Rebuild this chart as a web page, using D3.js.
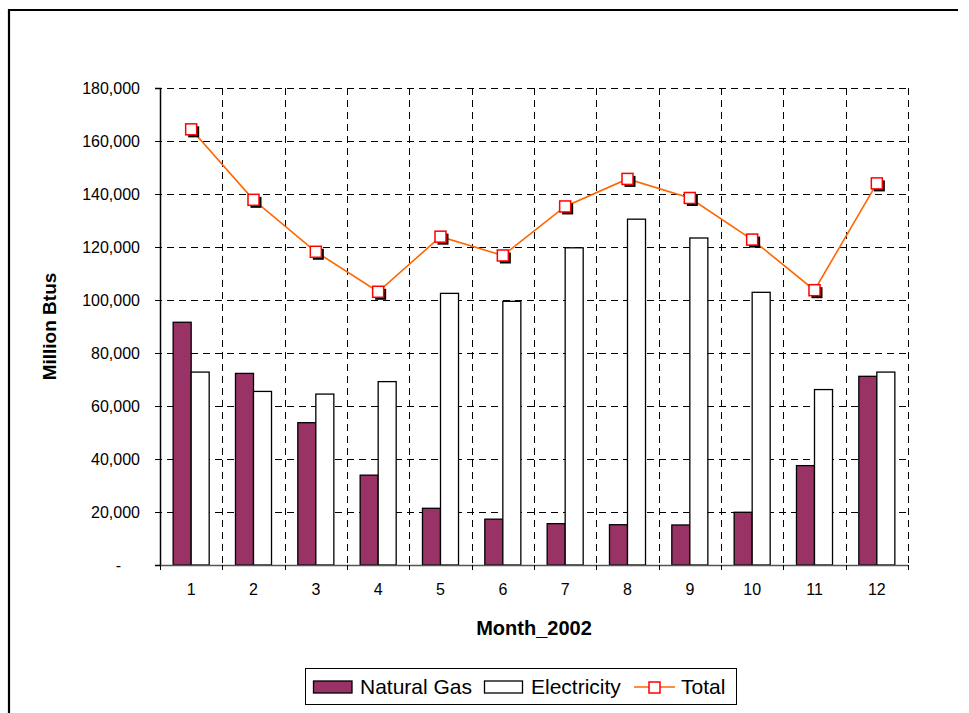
<!DOCTYPE html>
<html>
<head>
<meta charset="utf-8">
<script src="https://cdn.jsdelivr.net/npm/d3@7"></script>
<style>
  html, body { margin: 0; padding: 0; background: #fff; }
  svg { display: block; font-family: "Liberation Sans", Arial, sans-serif; }
</style>
</head>
<body>
<svg id="chart" width="969" height="713"></svg>
<script>
// Monthly energy use, 2002 (million Btus)
const months = ["1", "2", "3", "4", "5", "6", "7", "8", "9", "10", "11", "12"];
const naturalGas = [91600, 72300, 53700, 33900, 21400, 17300, 15600, 15200, 15100, 19900, 37500, 71200];
const electricity = [72800, 65500, 64500, 69200, 102500, 99500, 119700, 130500, 123400, 102900, 66200, 72800];
const total = [164400, 137800, 118200, 103100, 123900, 116800, 135300, 145700, 138500, 122800, 103700, 144000];
const yTicks = [0, 20000, 40000, 60000, 80000, 100000, 120000, 140000, 160000, 180000];
const seriesNames = ["Natural Gas", "Electricity", "Total"];

const svg = d3.select("#chart");
const plot = { left: 160, right: 908, top: 88, bottom: 565 };

const x = d3.scaleBand().domain(months).range([plot.left, plot.right]).paddingInner(0).paddingOuter(0);
const y = d3.scaleLinear().domain([0, 180000]).range([plot.bottom, plot.top]);

const gap = 1.46;
const barW = x.bandwidth() / (2 + gap);
const barOffset = barW * gap / 2;

// outer frame (top and left edges)
svg.append("path")
  .attr("d", `M9,713 L9,10 L958,10`)
  .attr("fill", "none").attr("stroke", "#000").attr("stroke-width", 2.2);

// horizontal dashed gridlines
svg.append("g").selectAll("line").data(yTicks.filter(d => d > 0)).join("line")
  .attr("x1", plot.left - 5).attr("x2", plot.right)
  .attr("y1", d => Math.round(y(d)) + 0.5).attr("y2", d => Math.round(y(d)) + 0.5)
  .attr("stroke", "#000").attr("stroke-width", 1).attr("stroke-dasharray", "7,5");

// vertical dashed gridlines at category boundaries
const bounds = months.slice(1).map(m => x(m)).concat([plot.right]);
svg.append("g").selectAll("line").data(bounds).join("line")
  .attr("x1", d => Math.round(d) + 0.5).attr("x2", d => Math.round(d) + 0.5)
  .attr("y1", plot.top).attr("y2", plot.bottom)
  .attr("stroke", "#000").attr("stroke-width", 1).attr("stroke-dasharray", "7,5");

// bars
const bars = svg.append("g");
bars.selectAll("rect.gas").data(naturalGas).join("rect")
  .attr("class", "gas")
  .attr("x", (d, i) => x(months[i]) + barOffset)
  .attr("width", barW)
  .attr("y", d => y(d))
  .attr("height", d => y(0) - y(d))
  .attr("fill", "#993366").attr("stroke", "#000").attr("stroke-width", 1.3);
bars.selectAll("rect.elec").data(electricity).join("rect")
  .attr("class", "elec")
  .attr("x", (d, i) => x(months[i]) + barOffset + barW)
  .attr("width", barW)
  .attr("y", d => y(d))
  .attr("height", d => y(0) - y(d))
  .attr("fill", "#fff").attr("stroke", "#000").attr("stroke-width", 1.3);

// y axis
const yAxis = d3.axisLeft(y).tickValues(yTicks).tickSize(5).tickPadding(15)
  .tickFormat(d => d === 0 ? "-" : d3.format(",")(d));
const gy = svg.append("g").attr("transform", `translate(${plot.left},0)`).call(yAxis);
gy.select(".domain").attr("stroke", "#000").attr("stroke-width", 1.5);
gy.selectAll(".tick line").attr("stroke", "#000");
gy.selectAll(".tick text").attr("font-size", 16).attr("fill", "#000")
  .attr("font-family", "'Liberation Sans', Arial, sans-serif");
gy.selectAll(".tick").filter(d => d === 0).select("text").attr("dx", -19);

// x axis
const xAxis = d3.axisBottom(x).tickSize(0).tickPadding(19);
const gx = svg.append("g").attr("transform", `translate(0,${plot.bottom})`).call(xAxis);
gx.select(".domain").attr("stroke", "#555").attr("stroke-width", 1.5);
gx.selectAll(".tick text").attr("font-size", 16).attr("fill", "#000")
  .attr("font-family", "'Liberation Sans', Arial, sans-serif");
gx.append("g").selectAll("line").data([plot.left].concat(bounds)).join("line")
  .attr("x1", d => Math.round(d) + 0.5).attr("x2", d => Math.round(d) + 0.5)
  .attr("y1", 0).attr("y2", 5).attr("stroke", "#000");

// total line
const cx = (d, i) => x(months[i]) + x.bandwidth() / 2;
svg.append("path")
  .datum(total)
  .attr("d", d3.line().x(cx).y(d => y(d)))
  .attr("fill", "none").attr("stroke", "#FF6600").attr("stroke-width", 1.6);

// markers with drop shadow
const ms = 11;
const mk = svg.append("g");
mk.selectAll("rect.shadow").data(total).join("rect")
  .attr("class", "shadow")
  .attr("x", (d, i) => cx(d, i) - ms / 2 + 2.5).attr("y", d => y(d) - ms / 2 + 2.5)
  .attr("width", ms).attr("height", ms).attr("fill", "#000");
mk.selectAll("rect.pt").data(total).join("rect")
  .attr("class", "pt")
  .attr("x", (d, i) => cx(d, i) - ms / 2).attr("y", d => y(d) - ms / 2)
  .attr("width", ms).attr("height", ms)
  .attr("fill", "#fff").attr("stroke", "#FF0000").attr("stroke-width", 1.5);

// axis titles
svg.append("text")
  .attr("transform", `translate(56,${(plot.top + plot.bottom) / 2}) rotate(-90)`)
  .attr("text-anchor", "middle").attr("font-size", 19).attr("font-weight", "bold")
  .text("Million Btus");
svg.append("text")
  .attr("x", (plot.left + plot.right) / 2).attr("y", 635)
  .attr("text-anchor", "middle").attr("font-size", 20).attr("font-weight", "bold")
  .text("Month_2002");

// legend
const lg = svg.append("g");
lg.append("rect").attr("x", 305.5).attr("y", 668.5).attr("width", 431).attr("height", 36)
  .attr("fill", "#fff").attr("stroke", "#000").attr("stroke-width", 1);
lg.append("rect").attr("x", 313.5).attr("y", 681).attr("width", 38.5).attr("height", 12)
  .attr("fill", "#993366").attr("stroke", "#000").attr("stroke-width", 1.3);
lg.append("text").attr("x", 360).attr("y", 694).attr("font-size", 21).text(seriesNames[0]);
lg.append("rect").attr("x", 484.5).attr("y", 681).attr("width", 38).attr("height", 12)
  .attr("fill", "#fff").attr("stroke", "#000").attr("stroke-width", 1.3);
lg.append("text").attr("x", 531).attr("y", 694).attr("font-size", 21).text(seriesNames[1]);
lg.append("line").attr("x1", 634).attr("x2", 675).attr("y1", 687).attr("y2", 687)
  .attr("stroke", "#FF6600").attr("stroke-width", 1.6);
lg.append("rect").attr("x", 649).attr("y", 682).attr("width", 11).attr("height", 11)
  .attr("fill", "#fff").attr("stroke", "#FF0000").attr("stroke-width", 1.5);
lg.append("text").attr("x", 681).attr("y", 694).attr("font-size", 21).text(seriesNames[2]);
</script>
</body>
</html>
